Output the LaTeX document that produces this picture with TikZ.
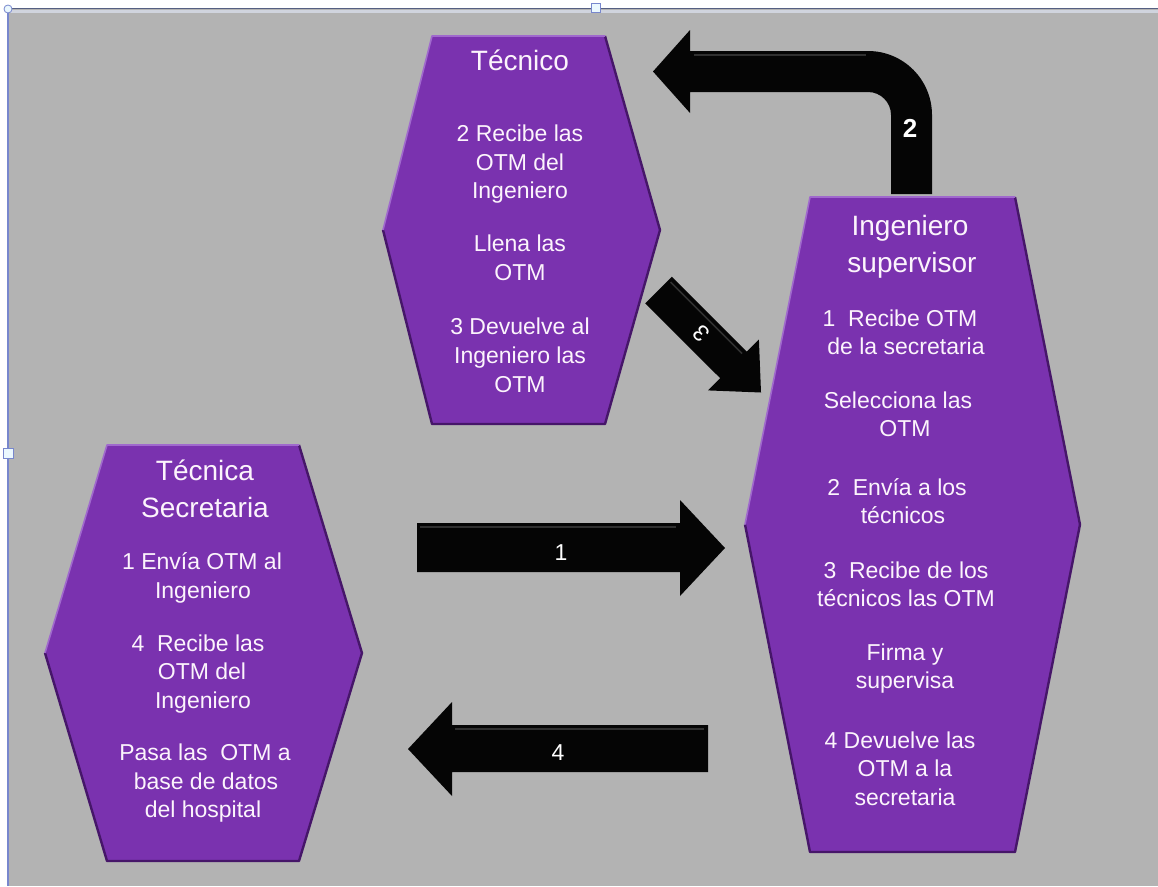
\documentclass[tikz,border=0pt]{standalone}
\usepackage{fontspec}
\setmainfont{Liberation Sans}
\definecolor{bggray}{RGB}{179,179,179}
\definecolor{hexpurple}{RGB}{122,50,175}
\definecolor{hexdark}{RGB}{70,22,105}
\definecolor{hexedge}{RGB}{160,105,205}
\definecolor{framedark}{RGB}{85,95,130}
\definecolor{framelight}{RGB}{208,212,222}
\definecolor{frameblue}{RGB}{120,135,205}
\definecolor{txt}{RGB}{252,244,252}
\definecolor{bevel}{RGB}{48,48,48}
\tikzset{
  hexfill/.style={fill=hexpurple},
  hexshade/.style={draw=hexdark, line width=2.4pt, line join=round},
  hexhi/.style={draw=hexedge, line width=1.6pt, line join=round},
  blockarrow/.style={fill=black!98},
  bevelline/.style={draw=bevel, line width=1.6pt},
  title/.style={text=txt, font=\fontsize{28}{34}\selectfont, anchor=base, inner sep=0pt},
  body/.style={text=txt, font=\fontsize{23}{28}\selectfont, anchor=base, inner sep=0pt},
  num/.style={text=white, font=\fontsize{23}{28}\selectfont, anchor=base, inner sep=0pt},
  handle/.style={fill=cyan!8, draw=frameblue, line width=0.8pt},
}
% #1 left point x, #2 top-left x, #3 top-right x, #4 right point x, #5 top y, #6 bottom y
\newcommand\drawhex[6]{%
  \path[hexfill] (#1,{(#5+#6)/2}) -- (#2,#5) -- (#3,#5) -- (#4,{(#5+#6)/2})
    -- (#3,#6) -- (#2,#6) -- cycle;
  \draw[hexshade] (#3,#5) -- (#4,{(#5+#6)/2}) -- (#3,#6) -- (#2,#6) -- (#1,{(#5+#6)/2});
  \draw[hexhi] (#1,{(#5+#6)/2}) -- (#2,#5) -- (#3,#5);
}
\begin{document}
\begin{tikzpicture}[x=1pt,y=-1pt]
\useasboundingbox (0,0) rectangle (1158,886);
% window background and frame
\fill[white] (0,0) rectangle (1158,886);
\fill[bggray] (8,9) rectangle (1158,886);
\draw[framelight, line width=3pt] (9,11.5) -- (1158,11.5);
\draw[framedark, line width=1.5pt] (7,8.5) -- (1158,8.5);
\draw[frameblue, line width=2pt] (7.5,8) -- (7.5,886);
% selection handles
\filldraw[handle] (8,9) circle (4);
\filldraw[handle] (591,3) rectangle (600,12);
\filldraw[handle] (3,448) rectangle (13,458);

% hexagons
\drawhex{383}{432}{605}{660}{36}{424}
\drawhex{745}{810}{1015}{1080}{197}{852}
\drawhex{45}{107}{299}{362}{445}{861}

% arrow 1: secretaria -> ingeniero
\path[blockarrow] (417,523) -- (680,523) -- (680,500) -- (725,548) -- (680,596)
  -- (680,572) -- (417,572) -- cycle;
\draw[bevelline] (420,527) -- (676,527);
% arrow 4: ingeniero -> secretaria
\path[blockarrow] (708,725) -- (452,725) -- (452,702) -- (408,749) -- (452,796)
  -- (452,772) -- (708,772) -- cycle;
\draw[bevelline] (455,729) -- (704,729);
% arrow 2: bent arrow from ingeniero to tecnico
\path[blockarrow] (891,194) -- (891,115) arc[start angle=0, end angle=-90, radius=23]
  -- (690,92) -- (690,113) -- (653,71.5) -- (690,30) -- (690,51) -- (868,51)
  arc[start angle=-90, end angle=0, radius=64] -- (932,194) -- cycle;
\draw[bevelline] (694,55) -- (866,55);
% arrow 3: diagonal arrow from tecnico to ingeniero
\path[blockarrow] (671.8,276.7) -- (746.7,351.7) -- (758.9,339.5) -- (761.0,392.5)
  -- (708.0,390.4) -- (720.2,378.2) -- (645.2,303.3) -- cycle;
\draw[bevelline] (670.5,282) -- (742,353.5);

% arrow numbers
\node[num] (n1) at (561,560) {1};
\node[num] (n4) at (558,760) {4};
\node[num, font=\bfseries\fontsize{26}{32}\selectfont] (n2) at (910,137) {2};
\node[text=white, font=\fontsize{23}{28}\selectfont, inner sep=0pt, rotate=135] (n3) at (701,334) {3};

% Tecnico
\node[title] (t0) at (520,70) {Técnico};
\node[body] (t1) at (520,141) {2 Recibe las};
\node[body] (t2) at (520,170) {OTM del};
\node[body] (t3) at (520,198) {Ingeniero};
\node[body] (t4) at (520,251) {Llena las};
\node[body] (t5) at (520,280) {OTM};
\node[body] (t6) at (520,334) {3 Devuelve al};
\node[body] (t7) at (520,363) {Ingeniero las};
\node[body] (t8) at (520,392) {OTM};

% Ingeniero supervisor
\node[title] (i0) at (910,235) {Ingeniero};
\node[title] (i1) at (912,272) {supervisor};
\node[body] (i2) at (900,326) {1\ \ Recibe OTM};
\node[body] (i3) at (906,354) {de la secretaria};
\node[body] (i4) at (898,408) {Selecciona las};
\node[body] (i5) at (905,436) {OTM};
\node[body] (i6) at (897,495) {2\ \ Envía a los};
\node[body] (i7) at (903,523) {técnicos};
\node[body] (i8) at (906,578) {3\ \ Recibe de los};
\node[body] (i9) at (906,606) {técnicos las OTM};
\node[body] (i10) at (905,660) {Firma y};
\node[body] (i11) at (905,688) {supervisa};
\node[body] (i12) at (900,748) {4 Devuelve las};
\node[body] (i13) at (905,776) {OTM a la};
\node[body] (i14) at (905,805) {secretaria};

% Tecnica Secretaria
\node[title] (s0) at (205,480) {Técnica};
\node[title] (s1) at (205,517) {Secretaria};
\node[body] (s2) at (202,569) {1 Envía OTM al};
\node[body] (s3) at (203,598) {Ingeniero};
\node[body] (s4) at (198,651) {4\ \ Recibe las};
\node[body] (s5) at (202,679) {OTM del};
\node[body] (s6) at (203,708) {Ingeniero};
\node[body] (s7) at (205,760) {Pasa las\ \ OTM a};
\node[body] (s8) at (206,789) {base de datos};
\node[body] (s9) at (203,817) {del hospital};
\end{tikzpicture}
\end{document}
